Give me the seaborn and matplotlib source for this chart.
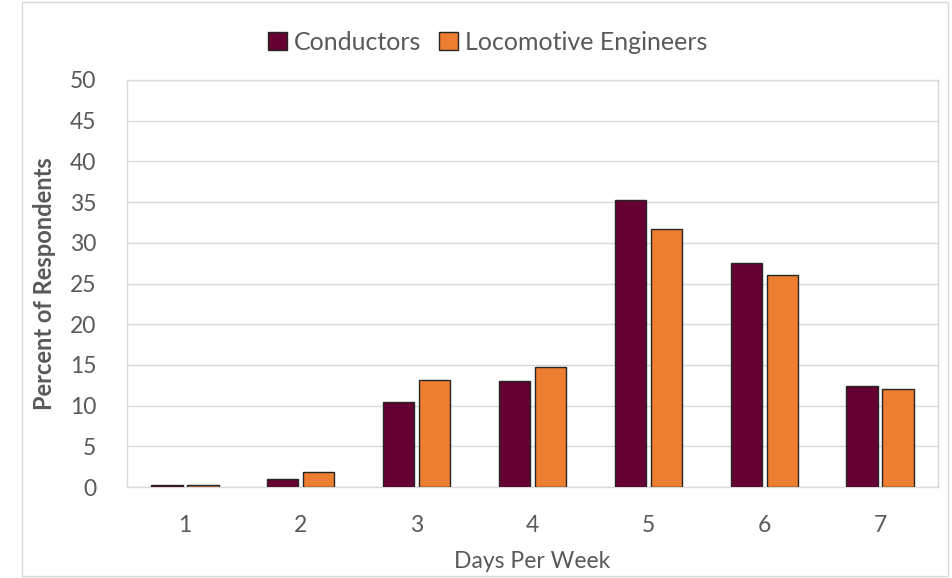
import matplotlib
matplotlib.use("Agg")
import matplotlib.pyplot as plt
import seaborn as sns
import pandas as pd
from matplotlib.patches import Rectangle

days = ["1", "2", "3", "4", "5", "6", "7"]
conductors = [0.3, 1.0, 10.4, 13.0, 35.2, 27.5, 12.4]
engineers = [0.3, 1.8, 13.2, 14.8, 31.7, 26.0, 12.1]
series_names = ["Conductors", "Locomotive Engineers"]
colors = ["#660033", "#ED7D31"]
yticks = [0, 5, 10, 15, 20, 25, 30, 35, 40, 45, 50]

df = pd.DataFrame({
    "Days": days * 2,
    "Percent": conductors + engineers,
    "Group": [series_names[0]] * len(days) + [series_names[1]] * len(days),
})

sns.set_theme(style="white")
plt.rcParams["font.family"] = ["Lato", "DejaVu Sans"]

fig = plt.figure(figsize=(9.52, 5.78), dpi=100)
ax = fig.add_axes([127 / 952, 1 - 487 / 578, (938 - 127) / 952, (487 - 80) / 578])

sns.barplot(data=df, x="Days", y="Percent", hue="Group", hue_order=series_names,
            palette=colors, saturation=1, width=0.62, gap=0.13,
            edgecolor="#262626", linewidth=1.0, ax=ax, zorder=3)

ax.set_ylim(0, 50)
ax.set_xlim(-0.5, 6.5)
ax.set_yticks(yticks)
ax.yaxis.grid(True, color="#d9d9d9", linewidth=1.0, zorder=0)
ax.set_axisbelow(True)
for s in ax.spines.values():
    s.set_color("#d9d9d9")
    s.set_linewidth(1.0)
ax.tick_params(axis="both", colors="#595959", labelsize=16.5, length=0)
ax.tick_params(axis="x", pad=20)
ax.tick_params(axis="y", pad=22)
ax.set_xlabel("Days Per Week", fontsize=16.5, color="#595959", labelpad=11)
ax.set_ylabel("Percent of Respondents", fontsize=17, color="#595959",
              fontweight="bold", labelpad=10)

leg = ax.legend(loc="center", bbox_to_anchor=(0.445, 1.092), ncol=2, frameon=False,
                fontsize=18, handlelength=0.75, handleheight=0.75, handletextpad=0.3,
                columnspacing=0.7, borderaxespad=0)
for t in leg.get_texts():
    t.set_color("#595959")

fig.patches.append(Rectangle((22 / 952, 0.004), (948 - 22) / 952, 0.992,
                             transform=fig.transFigure, fill=False,
                             edgecolor="#d9d9d9", linewidth=1.0))

fig.savefig("out.png", dpi=100, facecolor="white")
